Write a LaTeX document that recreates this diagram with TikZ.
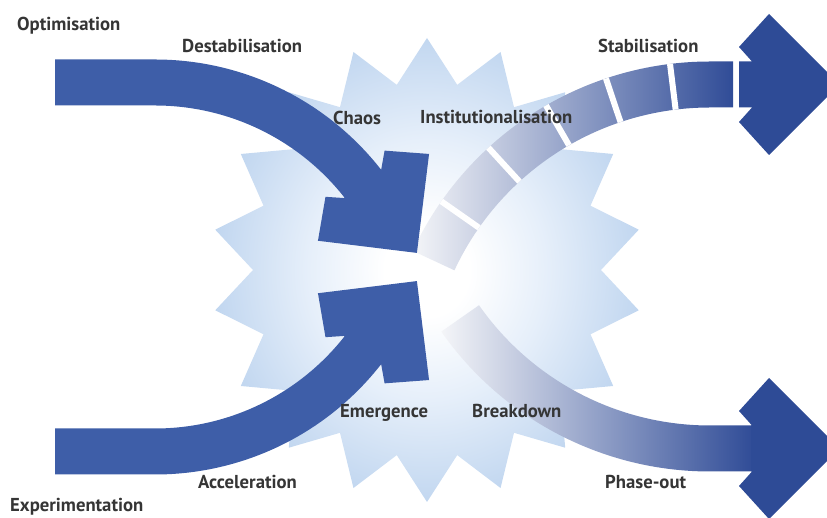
\documentclass[tikz,border=0pt]{standalone}
\usepackage{fontspec}
\setmainfont{PT Sans}
\usetikzlibrary{calc}
\definecolor{leftblue}{HTML}{3E5EA8}
\definecolor{headblue}{HTML}{2E4B96}
\definecolor{lightend}{HTML}{F4F5F8}
\definecolor{midband}{HTML}{9CA7CD}
\definecolor{darkend}{HTML}{304C97}
\definecolor{starblue}{HTML}{C2D7F0}
\definecolor{starmid}{HTML}{E6EFFA}
\definecolor{textgrey}{HTML}{353535}
\pgfdeclareradialshading{starshade}{\pgfpoint{0bp}{0bp}}{color(0bp)=(white); color(5bp)=(white); color(14bp)=(starmid); color(25bp)=(starblue); color(50bp)=(starblue)}
\begin{document}
\begin{tikzpicture}[x=1pt,y=1pt,
  lbl/.style={anchor=base west, inner sep=0pt, font=\fontsize{18.7}{20}\selectfont\bfseries, text=textgrey},
  leftband/.style={draw=leftblue, line width=46pt, line cap=butt},
  gapline/.style={draw=white, line width=6pt},
  bandshade/.style={left color=lightend, middle color=midband, right color=darkend}]
\useasboundingbox (0,0) rectangle (827,518);
\clip (0,0) rectangle (827,518);
% star background
\path[shading=starshade, shift={(427,248)}] (90:215 and 232)
  \foreach \k in {0,...,17}{ -- ({100+20*\k}:174 and 188) -- ({110+20*\k}:215 and 232)} -- cycle;
% centres of the right bands
\coordinate (trc) at (710,128.5);
\coordinate (brc) at (710,374.5);
% top right segmented band
\path[bandshade] ($(trc)+(155:282)$) arc[start angle=155, end angle=90, radius=282]
  -- (733,410.5) -- (733,456.5) -- (710,456.5) arc[start angle=90, end angle=155, radius=328] -- cycle;
\foreach \a in {97,108.5,120,132.5,145}{
  \draw[gapline, shift={(trc)}] (\a:282) -- (\a:328);
}
% bottom right band
\path[bandshade] ($(brc)+(-145:282)$) arc[start angle=-145, end angle=-90, radius=282]
  -- (753,92.5) -- (753,46.5) -- (710,46.5) arc[start angle=-90, end angle=-145, radius=328] -- cycle;
% left bands
\draw[leftband] (55,435.5) -- (155,435.5) arc[start angle=90, end angle=38, radius=264] coordinate (tlend);
\draw[leftband] (55,66.5) -- (155,66.5) arc[start angle=-90, end angle=-38, radius=264] coordinate (blend);
% left heads
\fill[leftblue, shift={(tlend)}, rotate=-52] (-13,37.5) -- (17,70.5) -- (87.5,0) -- (17,-70.5) -- (-13,-37.5) -- (0,-23) -- (-1,-23) -- (-1,23) -- (0,23) -- cycle;
\fill[leftblue, shift={(blend)}, rotate=52] (-13,37.5) -- (17,70.5) -- (87.5,0) -- (17,-70.5) -- (-13,-37.5) -- (0,-23) -- (-1,-23) -- (-1,23) -- (0,23) -- cycle;
% right heads
\coordinate (trn) at (752,433.5);
\coordinate (brn) at (752,69.5);
\fill[headblue, shift={(trn)}] (-13,37.5) -- (17,70.5) -- (87.5,0) -- (17,-70.5) -- (-13,-37.5) -- (0,-23) -- (-13,-23) -- (-13,23) -- (0,23) -- cycle;
\fill[headblue, shift={(brn)}] (-13,37.5) -- (17,70.5) -- (87.5,0) -- (17,-70.5) -- (-13,-37.5) -- (0,-23) -- (-1,-23) -- (-1,23) -- (0,23) -- cycle;
% labels
\node[lbl] (optim) at (17,487.3) {Optimisation};
\node[lbl] (destab) at (182,465.3) {Destabilisation};
\node[lbl] (chaos) at (333,393) {Chaos};
\node[lbl] (instit) at (420,394) {Institutionalisation};
\node[lbl] (stab) at (598,465.3) {Stabilisation};
\node[lbl] (emerg) at (340,100) {Emergence};
\node[lbl] (breakd) at (472,100) {Breakdown};
\node[lbl] (accel) at (198,29) {Acceleration};
\node[lbl] (exper) at (10,6) {Experimentation};
\node[lbl] (phase) at (605,29) {Phase-out};
\end{tikzpicture}
\end{document}
